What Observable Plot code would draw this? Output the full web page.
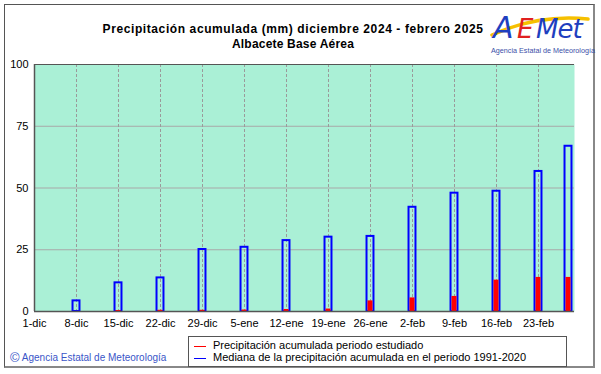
<!DOCTYPE html>
<html>
<head>
<meta charset="utf-8">
<script src="https://cdn.jsdelivr.net/npm/d3@7"></script>
<script src="https://cdn.jsdelivr.net/npm/@observablehq/plot@0.6"></script>
<style>
  html, body { margin: 0; padding: 0; background: #fff; }
  #wrap { position: relative; width: 601px; height: 374px; overflow: hidden; font-family: "Liberation Sans", Arial, sans-serif; }
  #frame { position: absolute; left: 4px; top: 4px; width: 591px; height: 364px; border: 1px solid #555; border-right: 2px solid #888; border-bottom: 2px solid #888; box-sizing: border-box; }
  #chart { position: absolute; left: 0; top: 0; }
  .title { position: absolute; left: 93px; width: 400px; text-align: center; font-weight: bold; font-size: 12px; color: #000; white-space: nowrap; }
  #legend { position: absolute; left: 188px; top: 336px; width: 379px; height: 31px; border: 1px solid #555; box-sizing: border-box; background: #fff; }
  .lg { position: absolute; left: 24px; font-size: 11px; color: #000; white-space: nowrap; }
  .sw { position: absolute; left: 5px; width: 12px; height: 0; border-top: 1.5px solid; }
  #copy { position: absolute; left: 10px; top: 350px; font-size: 10px; color: #3a55c8; white-space: nowrap; }
  #logo { position: absolute; left: 486px; top: 4px; }
</style>
</head>
<body>
<div id="wrap">
  <div id="frame"></div>
  <div id="chart"></div>
  <div class="title" style="top:22px;letter-spacing:0.6px">Precipitación acumulada (mm) diciembre 2024 - febrero 2025</div>
  <div class="title" style="top:37px;letter-spacing:0.2px">Albacete Base Aérea</div>
  <svg id="logo" width="110" height="54" viewBox="0 0 110 54">
    <path d="M6,31 C30,20 62,11 102,15" fill="none" stroke="#f6c000" stroke-width="3.5" stroke-linecap="round"/>
    <text x="7" y="34" font-family="DejaVu Sans" font-style="italic" font-size="30" font-weight="200" fill="#1f3fbf">A</text>
    <text x="31" y="34" font-family="DejaVu Sans" font-style="italic" font-size="26" fill="#e02020">E</text>
    <text x="50" y="34" font-family="DejaVu Sans" font-style="italic" font-size="26" fill="#1f3fbf" letter-spacing="-1">Met</text>
    <text x="57" y="48.5" text-anchor="middle" font-family="Liberation Sans" font-size="7.2" fill="#3a4fa8">Agencia Estatal de Meteorología</text>
  </svg>
  <div id="legend">
    <div class="sw" style="top:9px;border-color:#ff0000"></div>
    <div class="lg" style="top:2px">Precipitación acumulada periodo estudiado</div>
    <div class="sw" style="top:21px;border-color:#0000ff"></div>
    <div class="lg" style="top:14px">Mediana de la precipitación acumulada en el periodo 1991-2020</div>
  </div>
  <div id="copy"><span style="font-size:13px;vertical-align:-1px">©</span> Agencia Estatal de Meteorología</div>
</div>
<script>
// Data
const xTickDates = ["2024-12-01","2024-12-08","2024-12-15","2024-12-22","2024-12-29","2025-01-05","2025-01-12","2025-01-19","2025-01-26","2025-02-02","2025-02-09","2025-02-16","2025-02-23"];
const xTickLabels = ["1-dic","8-dic","15-dic","22-dic","29-dic","5-ene","12-ene","19-ene","26-ene","2-feb","9-feb","16-feb","23-feb"];
const barDates = ["2024-12-08","2024-12-15","2024-12-22","2024-12-29","2025-01-05","2025-01-12","2025-01-19","2025-01-26","2025-02-02","2025-02-09","2025-02-16","2025-02-23","2025-02-28"];
const medianValues = [4.3, 11.6, 13.6, 25.1, 26.0, 28.7, 30.1, 30.4, 42.2, 47.9, 48.7, 56.7, 66.9];
const observedValues = [0, 0.4, 0.5, 0.5, 0.6, 0.8, 1.0, 4.3, 5.5, 6.1, 12.7, 13.8, 13.8];
const yTicks = [0, 25, 50, 75, 100];
const yGrid = [25, 50, 75];
const xDomain = ["2024-12-01", "2025-03-01"];

const DAY = 864e5;
const half = 0.58 * DAY;
const bars = barDates.map((d, i) => ({date: new Date(d), median: medianValues[i], observed: observedValues[i]}));
const tickDates = xTickDates.map(d => new Date(d));
const labelOf = new Map(tickDates.map((d, i) => [+d, xTickLabels[i]]));

const plot = Plot.plot({
  width: 601,
  height: 374,
  marginLeft: 34,
  marginRight: 27,
  marginTop: 64,
  marginBottom: 63,
  style: {fontFamily: "Liberation Sans, Arial, sans-serif", fontSize: "11px", color: "#000", background: "transparent", overflow: "visible"},
  x: {type: "utc", domain: xDomain.map(d => new Date(d))},
  y: {domain: [0, 100]},
  marks: [
    Plot.frame({fill: "#aaf0d6", stroke: null}),
    Plot.ruleY(yGrid, {stroke: "#a8a8a8", strokeWidth: 1}),
    Plot.ruleX(tickDates.slice(1), {stroke: "#9a9a9a", strokeWidth: 1, strokeDasharray: "3,2"}),
    Plot.rect(bars, {x1: d => new Date(+d.date - half), x2: d => new Date(+d.date + half), y1: 0, y2: "median", fill: "none", stroke: "#0000ff", strokeWidth: 2}),
    Plot.rect(bars, {x1: d => new Date(+d.date - half), x2: d => new Date(+d.date + half), y1: 0, y2: "observed", fill: "#ff0000", insetLeft: 1, insetRight: 1}),
    Plot.ruleY([0], {stroke: "#555", strokeWidth: 1.5}),
    Plot.ruleY([100], {stroke: "#555", strokeWidth: 1}),
    Plot.ruleX([tickDates[0]], {stroke: "#555", strokeWidth: 1.5}),
    Plot.axisY(yTicks, {tickSize: 0, tickPadding: 6, fontSize: 11, label: null}),
    Plot.axisX(tickDates, {tickSize: 0, tickPadding: 8, fontSize: 11, label: null, tickFormat: d => labelOf.get(+d)})
  ]
});
document.getElementById("chart").appendChild(plot);
</script>
</body>
</html>
